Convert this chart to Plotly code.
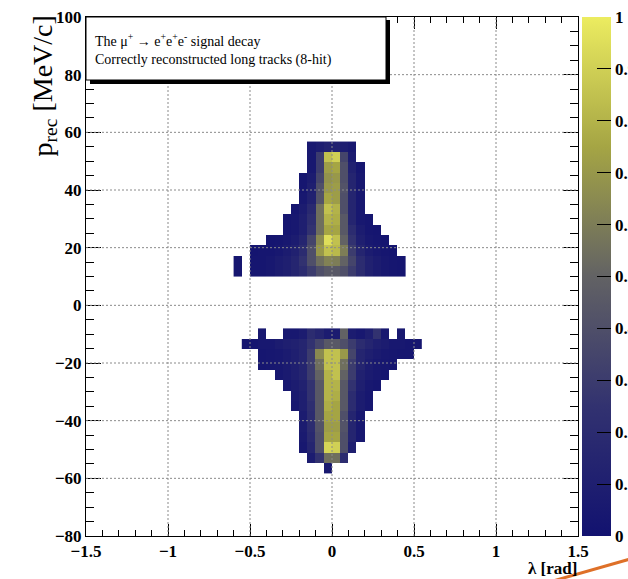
import plotly.graph_objects as go

N = None

# ---- histogram bins (bin centres) ----
lam_upper = [-0.575, -0.525, -0.475, -0.425, -0.375, -0.325, -0.275, -0.225, -0.175, -0.125,
             -0.075, -0.025, 0.025, 0.075, 0.125, 0.175, 0.225, 0.275, 0.325, 0.375, 0.425]
p_upper = [11.8, 15.4, 19.0, 22.6, 26.2, 29.8, 33.4, 37.0, 40.6, 44.2, 47.8, 51.4, 55.0]
z_upper = [
    [0.03, N, 0.03, 0.03, 0.05, 0.08, 0.10, 0.15, 0.20, 0.30, 0.40, 0.45, 0.45, 0.40, 0.30, 0.20, 0.12, 0.08, 0.05, 0.03, 0.02],
    [0.03, N, 0.03, 0.03, 0.05, 0.08, 0.10, 0.15, 0.25, 0.40, 0.55, 0.62, 0.60, 0.50, 0.35, 0.20, 0.12, 0.08, 0.05, 0.03, 0.02],
    [N, N, 0.02, 0.03, 0.03, 0.05, 0.08, 0.12, 0.20, 0.40, 0.70, 0.85, 0.82, 0.60, 0.30, 0.15, 0.08, 0.05, 0.03, 0.02, N],
    [N, N, N, N, 0.02, 0.03, 0.05, 0.08, 0.15, 0.35, 0.65, 0.95, 0.85, 0.50, 0.25, 0.10, 0.05, 0.03, 0.02, N, N],
    [N, N, N, N, N, N, 0.03, 0.05, 0.10, 0.25, 0.55, 0.75, 0.75, 0.45, 0.20, 0.08, 0.03, 0.02, N, N, N],
    [N, N, N, N, N, N, 0.03, 0.05, 0.10, 0.22, 0.55, 0.80, 0.78, 0.45, 0.15, 0.05, 0.03, N, N, N, N],
    [N, N, N, N, N, N, N, 0.03, 0.08, 0.18, 0.55, 0.85, 0.80, 0.40, 0.15, 0.05, N, N, N, N, N],
    [N, N, N, N, N, N, N, N, 0.05, 0.12, 0.42, 0.75, 0.72, 0.40, 0.15, 0.05, N, N, N, N, N],
    [N, N, N, N, N, N, N, N, 0.03, 0.10, 0.40, 0.70, 0.72, 0.42, 0.15, 0.05, N, N, N, N, N],
    [N, N, N, N, N, N, N, N, 0.03, 0.08, 0.35, 0.68, 0.70, 0.40, 0.15, 0.05, N, N, N, N, N],
    [N, N, N, N, N, N, N, N, N, 0.05, 0.30, 0.72, 0.75, 0.40, 0.12, 0.03, N, N, N, N, N],
    [N, N, N, N, N, N, N, N, N, 0.05, 0.30, 0.85, 0.90, 0.35, 0.08, N, N, N, N, N, N],
    [N, N, N, N, N, N, N, N, N, 0.05, 0.08, 0.12, 0.12, 0.08, 0.05, N, N, N, N, N, N],
]

lam_lower = [-0.525, -0.475, -0.425, -0.375, -0.325, -0.275, -0.225, -0.175, -0.125, -0.075, -0.025,
             0.025, 0.075, 0.125, 0.175, 0.225, 0.275, 0.325, 0.375, 0.425, 0.475, 0.525]
p_lower = [-56.6, -53.0, -49.4, -45.8, -42.2, -38.6, -35.0, -31.4, -27.8, -24.2, -20.6, -17.0, -13.4, -9.8]
z_lower = [
    [N, N, N, N, N, N, N, N, N, N, 0.05, N, N, N, N, N, N, N, N, N, N, N],
    [N, N, N, N, N, N, N, N, 0.08, 0.25, 0.55, 0.55, 0.20, N, N, N, N, N, N, N, N, N],
    [N, N, N, N, N, N, N, 0.05, 0.15, 0.40, 0.92, 0.90, 0.40, 0.10, N, N, N, N, N, N, N, N],
    [N, N, N, N, N, N, N, 0.06, 0.18, 0.40, 0.75, 0.75, 0.40, 0.15, 0.05, N, N, N, N, N, N, N],
    [N, N, N, N, N, N, N, 0.08, 0.20, 0.42, 0.72, 0.72, 0.42, 0.15, 0.05, N, N, N, N, N, N, N],
    [N, N, N, N, N, N, N, 0.08, 0.20, 0.45, 0.75, 0.75, 0.40, 0.15, 0.05, N, N, N, N, N, N, N],
    [N, N, N, N, N, N, 0.05, 0.10, 0.22, 0.45, 0.78, 0.75, 0.45, 0.20, 0.08, 0.04, N, N, N, N, N, N],
    [N, N, N, N, N, N, 0.06, 0.10, 0.25, 0.45, 0.80, 0.78, 0.45, 0.20, 0.08, 0.04, N, N, N, N, N, N],
    [N, N, N, N, N, 0.05, 0.08, 0.12, 0.25, 0.45, 0.80, 0.80, 0.45, 0.25, 0.10, 0.05, 0.03, N, N, N, N, N],
    [N, N, N, N, 0.04, 0.06, 0.10, 0.15, 0.30, 0.50, 0.80, 0.85, 0.50, 0.30, 0.12, 0.07, 0.05, 0.03, N, N, N, N],
    [N, N, 0.03, 0.04, 0.05, 0.07, 0.10, 0.15, 0.30, 0.55, 0.85, 0.85, 0.55, 0.30, 0.15, 0.08, 0.05, 0.04, 0.03, N, N, N],
    [N, N, 0.03, 0.04, 0.05, 0.07, 0.10, 0.15, 0.30, 0.65, 0.85, 0.85, 0.70, 0.35, 0.15, 0.10, 0.07, 0.05, 0.04, 0.03, 0.03, N],
    [0.03, 0.03, 0.05, 0.05, 0.08, 0.10, 0.12, 0.15, 0.25, 0.35, 0.45, 0.45, 0.40, 0.30, 0.20, 0.15, 0.10, 0.08, 0.05, 0.05, 0.03, 0.03],
    [N, N, 0.05, N, N, 0.05, 0.05, 0.08, 0.20, 0.15, 0.08, 0.08, 0.50, 0.08, 0.05, 0.10, 0.25, 0.05, N, 0.05, N, N],
]

x_grid = [-1, -0.5, 0, 0.5, 1]
y_grid = [-60, -40, -20, 0, 20, 40, 60, 80]

legend_line1 = "The \u03bc<sup>+</sup> \u2192 e<sup>+</sup>e<sup>+</sup>e<sup>-</sup> signal decay"
legend_line2 = "Correctly reconstructed long tracks (8-hit)"

SERIF = "Liberation Serif, Times New Roman, serif"

colorscale = [
    [0.0, "rgb(18,18,112)"],
    [0.25, "rgb(50,50,112)"],
    [0.5, "rgb(98,98,100)"],
    [0.75, "rgb(165,165,68)"],
    [1.0, "rgb(236,236,96)"],
]

fig = go.Figure()
fig.add_trace(go.Heatmap(x=lam_upper, y=p_upper, z=z_upper, coloraxis="coloraxis",
                         hoverinfo="skip", xgap=0, ygap=0))
fig.add_trace(go.Heatmap(x=lam_lower, y=p_lower, z=z_lower, coloraxis="coloraxis",
                         hoverinfo="skip", xgap=0, ygap=0))

W, H = 628, 579
ML, MR, MT, MB = 86, 50, 17, 43
PW, PH = W - ML - MR, H - MT - MB


def px_x(px):
    return (px - ML) / PW


def px_y(py):
    return (H - MB - py) / PH


shapes = []
for gx in x_grid:
    shapes.append(dict(type="line", xref="x", yref="paper", x0=gx, x1=gx, y0=0, y1=1,
                       line=dict(color="#8a8a8a", width=1, dash="2px,2px"), layer="above"))
for gy in y_grid:
    shapes.append(dict(type="line", xref="paper", yref="y", x0=0, x1=1, y0=gy, y1=gy,
                       line=dict(color="#8a8a8a", width=1, dash="2px,2px"), layer="above"))
# legend box shadow + box
shapes.append(dict(type="rect", xref="paper", yref="paper",
                   x0=px_x(90), x1=px_x(390), y0=px_y(84), y1=px_y(20),
                   fillcolor="black", line=dict(width=0), layer="above"))
shapes.append(dict(type="rect", xref="paper", yref="paper",
                   x0=px_x(86), x1=px_x(386), y0=px_y(80), y1=px_y(17),
                   fillcolor="white", line=dict(color="black", width=1), layer="above"))
# orange slide decoration
shapes.append(dict(type="line", xref="paper", yref="paper",
                   x0=px_x(553), y0=px_y(581), x1=px_x(630), y1=px_y(559),
                   line=dict(color="rgb(222,112,40)", width=3), layer="above"))

annotations = [
    dict(text=legend_line1, xref="paper", yref="paper", x=px_x(93), y=px_y(40),
         xanchor="left", yanchor="middle", showarrow=False,
         font=dict(family=SERIF, size=14, color="black")),
    dict(text=legend_line2, xref="paper", yref="paper", x=px_x(93), y=px_y(60),
         xanchor="left", yanchor="middle", showarrow=False,
         font=dict(family=SERIF, size=14, color="black")),
    dict(text="p<sub>rec</sub> [MeV/c]", xref="paper", yref="paper", x=px_x(44), y=px_y(14),
         xanchor="center", yanchor="top", textangle=-90, showarrow=False,
         font=dict(family=SERIF, size=28, color="black")),
    dict(text="\u03bb [rad]", xref="paper", yref="paper", x=px_x(579), y=px_y(568),
         xanchor="right", yanchor="middle", showarrow=False,
         font=dict(family=SERIF, size=17, color="black", weight="bold")),
]

tickfont = dict(family=SERIF, size=17, color="black", weight="bold")

fig.update_layout(
    width=W, height=H,
    margin=dict(l=ML, r=MR, t=MT, b=MB, pad=0, autoexpand=False),
    paper_bgcolor="white", plot_bgcolor="white",
    showlegend=False,
    shapes=shapes,
    annotations=annotations,
    coloraxis=dict(
        cmin=0, cmax=1, colorscale=colorscale,
        colorbar=dict(
            x=px_x(582), xanchor="left", xref="paper",
            y=0.5, yanchor="middle", len=1, lenmode="fraction",
            thickness=29, thicknessmode="pixels",
            xpad=0, ypad=0, outlinewidth=0,
            tick0=0, dtick=0.1, ticks="inside", ticklen=14, tickcolor="black", tickwidth=1,
            tickfont=tickfont,
        ),
    ),
    xaxis=dict(
        range=[-1.5, 1.5], dtick=0.5, tick0=-1.5,
        showgrid=False, zeroline=False,
        showline=True, linecolor="black", linewidth=1, mirror="ticks",
        ticks="inside", ticklen=12, tickcolor="black", tickwidth=1,
        minor=dict(dtick=0.1, ticks="inside", ticklen=6, tickcolor="black", showgrid=False),
        tickfont=tickfont,
    ),
    yaxis=dict(
        range=[-80, 100], dtick=20, tick0=0,
        showgrid=False, zeroline=False,
        showline=True, linecolor="black", linewidth=1, mirror="ticks",
        ticks="inside", ticklen=15, tickcolor="black", tickwidth=1,
        minor=dict(dtick=5, ticks="inside", ticklen=8, tickcolor="black", showgrid=False),
        tickfont=tickfont,
    ),
)

fig.write_html("out.html",
               config={"displayModeBar": False},
               post_script="document.body.style.margin='0';document.body.style.overflow='hidden';")
